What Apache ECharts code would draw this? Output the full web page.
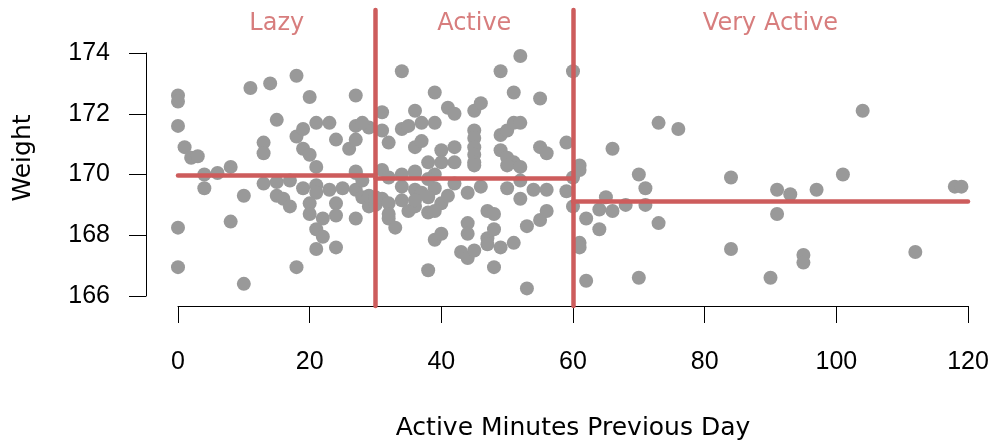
<!DOCTYPE html>
<html>
<head>
<meta charset="utf-8">
<script src="https://cdn.jsdelivr.net/npm/echarts@6/dist/echarts.min.js"></script>
<style>html,body{margin:0;padding:0;background:#fff}#c{width:993px;height:448px}</style>
</head>
<body>
<div id="c"></div>
<script>
// ---- data ----
const lazyPoints = [[0,172.6],[0,172.4],[0,171.6],[1,170.9],[2,170.55],[3,170.6],[4,170.0],[4,169.55],[6,170.05],[8,170.25],[8,168.45],[0,168.25],[0,166.95],[10,166.4],[10,169.3],[11,172.85],[13,171.05],[13,170.7],[14,173.0],[15,171.8],[13,169.7],[15,169.75],[17,169.8],[15,169.3],[16,169.2],[17,168.95],[18,173.25],[18,171.25],[19,171.5],[19,170.85],[20,170.65],[21,170.25],[20,172.55],[21,171.7],[23,171.7],[19,169.55],[21,169.65],[21,169.4],[20,169.05],[20,168.7],[22,168.55],[21,168.2],[22,167.95],[21,167.55],[24,167.6],[18,166.95],[23,169.5],[25,169.55],[27,169.5],[28,169.25],[24,169.05],[24,168.65],[27,168.55],[27,170.05],[29,168.95],[24,171.15],[26,170.85],[27,171.15],[27,171.6],[29,171.55],[27,172.6],[27,170.1],[28,171.7],[28,169.8],[29,169.3]];
const activePoints = [[30,169.0],[31,172.05],[31,171.45],[31,170.15],[31,169.2],[32,171.05],[32,169.9],[32,169.05],[32,168.55],[32,168.7],[33,168.25],[34,173.4],[34,171.5],[34,169.6],[34,169.15],[35,171.6],[35,168.8],[36,172.1],[36,170.9],[36,170.1],[36,169.5],[36,168.95],[37,171.7],[37,171.1],[37,169.4],[38,170.4],[38,168.75],[38,166.85],[39,172.7],[39,171.7],[39,169.55],[39,167.85],[40,170.8],[40,170.4],[40,169.05],[40,168.05],[41,172.2],[41,169.3],[42,172.0],[42,170.9],[42,170.4],[43,167.45],[44,169.4],[44,168.4],[44,168.05],[44,167.25],[45,172.1],[45,171.45],[45,171.2],[45,170.9],[45,170.65],[45,170.4],[45,167.5],[46,172.35],[47,168.8],[47,167.9],[47,167.7],[48,168.7],[48,168.2],[48,166.95],[49,173.4],[49,171.3],[49,170.8],[49,167.6],[50,171.45],[50,170.55],[50,169.55],[51,172.7],[51,171.7],[51,170.4],[51,167.75],[52,173.9],[52,171.7],[52,169.8],[52,169.2],[53,168.3],[53,166.25],[54,169.5],[55,172.5],[55,170.9],[55,168.5],[56,170.7],[56,169.5],[56,168.8],[59,171.05],[59,169.45],[34,170.0],[36,170.05],[39,170.0],[50,170.3],[52,170.25],[38,169.85],[42,169.7],[46,169.6],[30,169.25],[36,169.15],[38,169.25],[39,168.8],[45,170.3]];
const veryActivePoints = [[60,173.4],[61,170.3],[60,169.9],[60,168.95],[61,170.15],[66,170.85],[73,171.7],[76,171.5],[70,170.0],[71,169.55],[71,169.0],[68,169.0],[65,169.25],[64,168.85],[66,168.8],[62,168.55],[64,168.2],[73,168.4],[61,167.75],[61,167.6],[62,166.5],[70,166.6],[84,169.9],[84,167.55],[91,169.5],[93,169.35],[97,169.5],[101,170.0],[104,172.1],[91,168.7],[95,167.35],[95,167.1],[90,166.6],[112,167.45],[118,169.6],[119,169.6]];

const groupNames = ['Lazy', 'Active', 'Very Active'];
const groupBreaks = [0, 30, 60, 120];
const groupMeans = [169.98, 169.88, 169.12];
const groupLabelX = [15, 45, 90];
const groupLabelWeight = 174.97;

const xTicks = [0, 20, 40, 60, 80, 100, 120];
const yTicks = [166, 168, 170, 172, 174];

// ---- chart ----
const NUMFONT = 'Liberation Sans';
const TXTFONT = 'DejaVu Sans';
const RED = '#cd5c5c';
const allPoints = lazyPoints.concat(activePoints, veryActivePoints);

const vLines = groupBreaks.slice(1, 3).map(b => ({ xAxis: b }));
const hLines = groupMeans.map((m, i) => [
  { coord: [groupBreaks[i], m] },
  { coord: [groupBreaks[i + 1], m] }
]);

const chart = echarts.init(document.getElementById('c'), null, { renderer: 'canvas' });
chart.setOption({
  animation: false,
  backgroundColor: '#ffffff',
  grid: [
    { left: 178, right: 25, top: 10, bottom: 142 },
    { left: 146, right: 25, top: 53, bottom: 152 }
  ],
  xAxis: [
    {
      gridIndex: 0, type: 'value', min: xTicks[0], max: xTicks[xTicks.length - 1], interval: 20,
      name: 'Active Minutes Previous Day', nameLocation: 'middle', nameGap: 110,
      nameTextStyle: { fontFamily: TXTFONT, fontSize: 25, color: '#000' },
      axisLine: { show: true, lineStyle: { color: '#000', width: 1 } },
      axisTick: { show: true, length: 17, lineStyle: { color: '#000', width: 1 } },
      axisLabel: { fontFamily: NUMFONT, fontSize: 25, color: '#000', margin: 44 },
      splitLine: { show: false }
    },
    { gridIndex: 1, type: 'value', min: 0, max: 1, show: false }
  ],
  yAxis: [
    {
      gridIndex: 0, type: 'value', min: 165.671, max: 175.416,
      name: 'Weight', nameLocation: 'middle', nameGap: 142, nameRotate: 90,
      nameTextStyle: { fontFamily: TXTFONT, fontSize: 25, color: '#000' },
      axisLine: { show: false }, axisTick: { show: false }, axisLabel: { show: false },
      splitLine: { show: false }
    },
    {
      gridIndex: 1, type: 'value', min: yTicks[0], max: yTicks[yTicks.length - 1], interval: 2,
      axisLine: { show: true, lineStyle: { color: '#000', width: 1 } },
      axisTick: { show: true, length: 17, lineStyle: { color: '#000', width: 1 } },
      axisLabel: { fontFamily: NUMFONT, fontSize: 25, color: '#000', margin: 36 },
      splitLine: { show: false }
    }
  ],
  series: [
    {
      type: 'scatter', xAxisIndex: 0, yAxisIndex: 0,
      data: allPoints, symbol: 'circle', symbolSize: 14, clip: false,
      itemStyle: { color: '#999999', opacity: 1 },
      z: 2
    },
    {
      type: 'scatter', xAxisIndex: 0, yAxisIndex: 0, symbolSize: 0, clip: false,
      data: groupNames.map((n, i) => ({ name: n, value: [groupLabelX[i], groupLabelWeight] })),
      label: { show: true, position: 'inside', formatter: '{b}', fontFamily: TXTFONT, fontSize: 24, color: RED },
      silent: true,
      markLine: {
        silent: true, symbol: ['none', 'none'], animation: false,
        label: { show: false },
        lineStyle: { color: RED, width: 4.5, type: 'solid', cap: 'round' },
        emphasis: { disabled: true },
        data: vLines.concat(hLines)
      },
      z: 5
    }
  ]
});
</script>
</body>
</html>
